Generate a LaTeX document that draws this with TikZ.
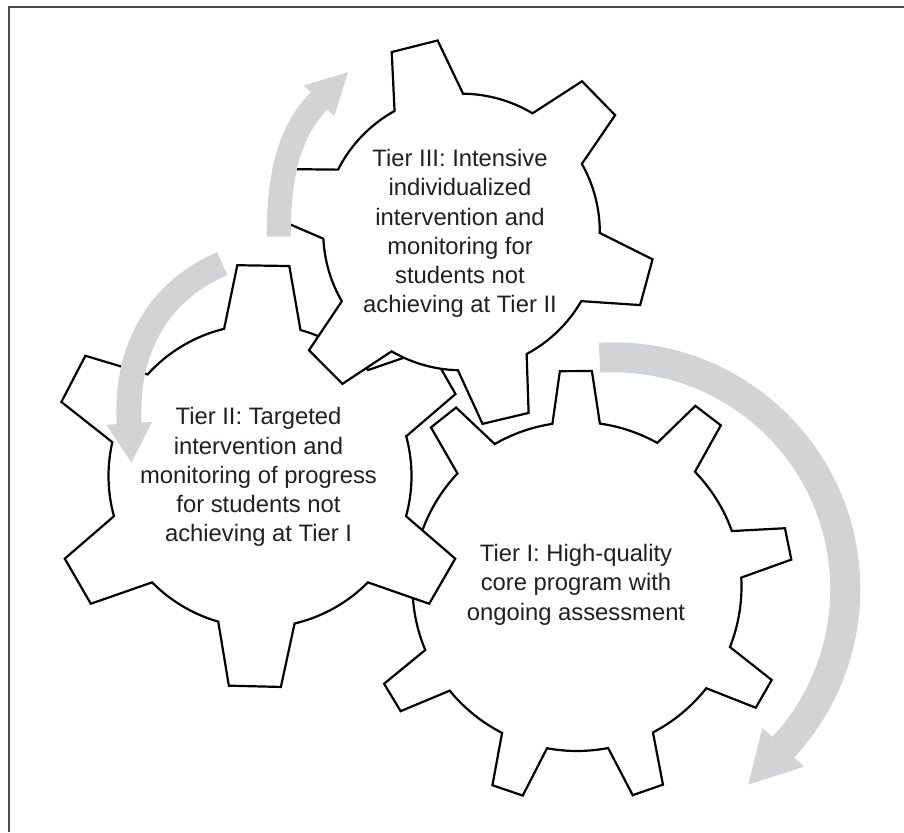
\documentclass[tikz,border=0pt]{standalone}
\usepackage{fontspec}
\setmainfont{Liberation Sans}
\usetikzlibrary{calc}
\definecolor{arrowgray}{RGB}{209,211,212}
\definecolor{textcol}{RGB}{35,31,32}
\definecolor{framecol}{RGB}{75,75,75}
\tikzset{
  gearline/.style={draw=black, fill=white, line width=2.2pt, line join=miter},
  band/.style={draw=arrowgray, line cap=butt},
  headfill/.style={fill=arrowgray},
  tiertext/.style={anchor=base, inner sep=0pt, text=textcol, font=\fontsize{23.8}{29.25}\selectfont},
}
% #1 centre, #2 root radius, #3 tip radius, #4 root half angle, #5 tip half angle, #6 first tooth angle, #7 tooth/next pairs
\newcommand{\mygear}[7]{%
  \draw[gearline, shift={#1}] ({#6+#4}:#2)
    foreach \ta/\tn in {#7} {
      -- ({\ta+#5}:#3) -- ({\ta-#5}:#3) -- ({\ta-#4}:#2)
      arc[start angle={\ta-#4}, end angle={\tn+#4}, radius=#2]
    } -- cycle;
}
\begin{document}
\begin{tikzpicture}[x=1pt, y=1pt]
\useasboundingbox (0,0) rectangle (904,832);
\fill[white] (0,0) rectangle (904,832);
% frame
\draw[framecol, line width=2pt, line join=miter] (9,0) -- (9,825) -- (904,825);

% gear centres
\coordinate (g1) at (577,245.5);
\coordinate (g2) at (260,356);
\coordinate (g3) at (461.5,600);

% Tier I gear (bottom layer)
\mygear{(577,245.5)}{164.5}{216}{8.3}{4.25}{128.3}{128.3/90.3, 90.3/52.5, 52.5/11.4, 11.4/-29.9, -29.9/-70.8, -70.8/-108.8, -108.8/-149, -149/-190.35, -190.35/-231.7}
% Tier II gear
\mygear{(260,356)}{151.5}{212}{14.6}{7.05}{152.5}{152.5/89.1, 89.1/29.8, 29.8/-30, -30/-91.4, -91.4/-150, -150/-207.5}
% Tier III gear (top layer)
\mygear{(461.5,600)}{138.3}{193}{14.8}{7.05}{168}{168/104.15, 104.15/44.3, 44.3/-15.2, -15.2/-76.7, -76.7/-135.15, -135.15/-192}

% arrow A (right, around Tier I)
\coordinate (ac) at (613.3,242.7);
\coordinate (aS) at ($(ac)+(93.4:232)$);
\coordinate (aE) at ($(ac)+(-43.2:232)$);
\draw[band, line width=30pt] (aS) arc[start angle=93.4, end angle=-43.2, radius=232];
\fill[headfill] ($(ac)+(-42.9:260.5)$) -- ($(ac)+(-42.9:203.5)$) -- ($(aE)+(-133.2:50)$) -- cycle;

% arrow B (top left, upwards)
\coordinate (bS) at (278.7,595.3);
\coordinate (bE) at (319.65,731.65);
\draw[band, line width=24pt] (bS) .. controls (278.7,644.6) and (284.7,696.9) .. (bE);
\fill[headfill] (303.8,746.4) -- (334.3,715.8) -- (348,759.9) -- cycle;

% arrow C (left, downwards)
\coordinate (cS) at (222.3,568.3);
\coordinate (cE) at (129.2,407.8);
\draw[band, line width=25pt] (cS) .. controls (156.1,540.4) and (124.9,479.7) .. (cE);
\fill[headfill] (152,410) -- (106.3,407.2) -- (131.5,369.4) -- cycle;

% texts
\node[tiertext] (t3) at (460,665.3) {\begin{tabular}[t]{@{}c@{}}Tier III: Intensive\\ individualized\\ intervention and\\ monitoring for\\ students not\\ achieving at Tier II\end{tabular}};
\node[tiertext] (t2) at (258.5,407) {\begin{tabular}[t]{@{}c@{}}Tier II: Targeted\\ intervention and\\ monitoring of progress\\ for students not\\ achieving at Tier I\end{tabular}};
\node[tiertext] (t1) at (576,270.3) {\begin{tabular}[t]{@{}c@{}}Tier I: High-quality\\ core program with\\ ongoing assessment\end{tabular}};
\end{tikzpicture}
\end{document}
